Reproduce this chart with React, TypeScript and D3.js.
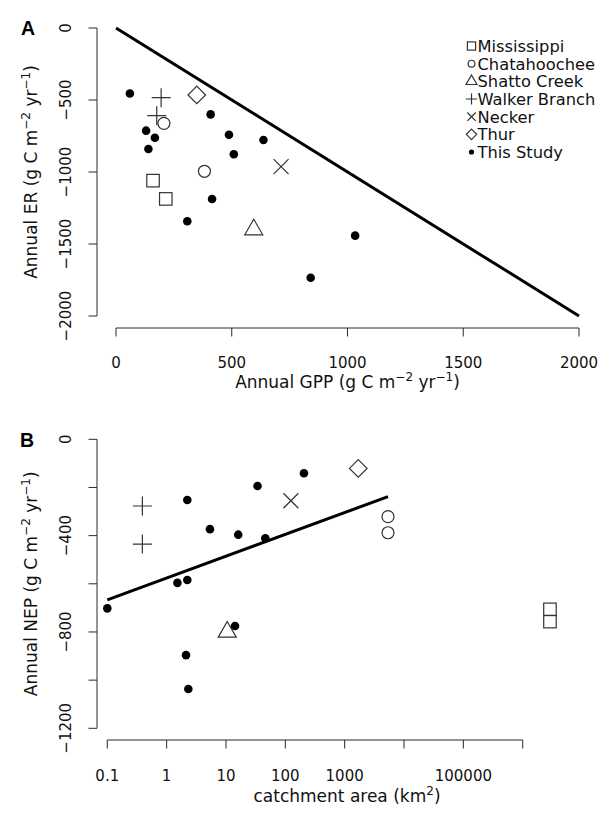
import React from "react";
import * as d3 from "d3";

// ---------- Panel A data: annual GPP vs annual ER ----------
const studyGPP = [60, 130, 168, 140, 409, 488, 509, 637, 415, 308, 1033, 841];
const studyER = [-455, -713, -762, -840, -600, -741, -877, -778, -1187, -1342, -1442, -1734];
const missGPP = [160, 215];
const missER = [-1060, -1187];
const chatGPP = [207, 382];
const chatER = [-662, -995];
const shattoGPP = [595];
const shattoER = [-1400];
const walkerGPP = [195, 176];
const walkerER = [-484, -609];
const neckerGPP = [713];
const neckerER = [-963];
const thurGPP = [349];
const thurER = [-465];
const oneToOneGPP = [0, 2000];
const oneToOneER = [0, -2000];
const gppTicks = [0, 500, 1000, 1500, 2000];
const erTicks = [0, -500, -1000, -1500, -2000];

// ---------- Panel B data: catchment area vs annual NEP ----------
const studyArea = [0.1, 1.52, 2.23, 2.23, 5.37, 16.1, 34, 46, 14.2, 2.12, 2.32, 206];
const studyNEP = [-702, -596, -584, -252, -373, -396, -194, -411, -775, -896, -1037, -141];
const missArea = [2.88e6, 2.88e6];
const missNEP = [-706, -757];
const chatArea = [5370, 5370];
const chatNEP = [-321, -388];
const shattoArea = [10.5];
const shattoNEP = [-800];
const walkerArea = [0.39, 0.39];
const walkerNEP = [-277, -435];
const neckerArea = [124];
const neckerNEP = [-255];
const thurArea = [1695];
const thurNEP = [-121];
const fitArea = [0.1, 5370];
const fitNEP = [-667, -238];
const areaTicks = [0.1, 1, 10, 100, 1000, 10000, 100000, 1000000];
const areaTickLabels = ["0.1", "1", "10", "100", "1000", "", "100000", ""];
const nepTicks = [0, -200, -400, -600, -800, -1000, -1200];
const nepTickLabels = ["0", "", "−400", "", "−800", "", "−1200"];

const legendNames = ["Mississippi", "Chatahoochee", "Shatto Creek", "Walker Branch", "Necker", "Thur", "This Study"];
const legendShapes = ["square", "circle", "triangle", "plus", "times", "diamond", "dot"];

const FONT = "'DejaVu Sans', sans-serif";
const INK = "#2a2a2a";
const TICK_FS = 15;
const TITLE_FS = 17;
const SUP_FS = 12;
const LEGEND_FS = 16.3;

const plotSize: Record<string, number> = {
  square: 12.5, circle: 6, triangle: 10.4, plus: 9.5, times: 7.5, diamond: 8.8, dot: 4.3,
};
const legendSize: Record<string, number> = {
  square: 8.2, circle: 3.4, triangle: 6.3, plus: 5.6, times: 4.2, diamond: 5.2, dot: 2.6,
};

function Marker({ shape, x, y, s }: { shape: string; x: number; y: number; s: number }) {
  const st = { fill: "none", stroke: "#333", strokeWidth: 1.2 };
  if (shape === "dot") return <circle cx={x} cy={y} r={s} fill="#000" />;
  if (shape === "circle") return <circle cx={x} cy={y} r={s} {...st} />;
  if (shape === "square") return <rect x={x - s / 2} y={y - s / 2} width={s} height={s} {...st} />;
  if (shape === "triangle") {
    const dx = (s * Math.sqrt(3)) / 2;
    return <path d={`M${x},${y - s}L${x + dx},${y + s / 2}L${x - dx},${y + s / 2}Z`} {...st} />;
  }
  if (shape === "plus")
    return <path d={`M${x - s},${y}H${x + s}M${x},${y - s}V${y + s}`} {...st} />;
  if (shape === "times")
    return <path d={`M${x - s},${y - s}L${x + s},${y + s}M${x - s},${y + s}L${x + s},${y - s}`} {...st} />;
  if (shape === "diamond")
    return <path d={`M${x},${y - s}L${x + s},${y}L${x},${y + s}L${x - s},${y}Z`} {...st} />;
  return null;
}

function AxisTitle({ x, y, rotate, main }: { x: number; y: number; rotate?: boolean; main: string }) {
  return (
    <text
      transform={`translate(${x},${y})${rotate ? " rotate(-90)" : ""}`}
      textAnchor="middle"
      fontFamily={FONT}
      fontSize={TITLE_FS}
      fill="#111"
      style={{ whiteSpace: "pre" }}
    >
      <tspan>{main}</tspan>
      <tspan dy={-7} fontSize={SUP_FS}>−2</tspan>
      <tspan dy={7}> yr</tspan>
      <tspan dy={-7} fontSize={SUP_FS}>−1</tspan>
      <tspan dy={7}>)</tspan>
    </text>
  );
}

export default function App() {
  // Panel A scales
  const xA = d3.scaleLinear().domain([0, 2000]).range([116, 579]);
  const yA = d3.scaleLinear().domain([0, -2000]).range([28, 316]);
  // Panel B scales
  const xB = d3.scaleLog().domain([0.1, 1e6]).range([107.3, 522.7]);
  const yB = d3.scaleLinear().domain([0, -1200]).range([439.3, 728.3]);

  const seriesA = [
    { shape: "square", xs: missGPP, ys: missER },
    { shape: "circle", xs: chatGPP, ys: chatER },
    { shape: "triangle", xs: shattoGPP, ys: shattoER },
    { shape: "plus", xs: walkerGPP, ys: walkerER },
    { shape: "times", xs: neckerGPP, ys: neckerER },
    { shape: "diamond", xs: thurGPP, ys: thurER },
    { shape: "dot", xs: studyGPP, ys: studyER },
  ];
  const seriesB = [
    { shape: "square", xs: missArea, ys: missNEP },
    { shape: "circle", xs: chatArea, ys: chatNEP },
    { shape: "triangle", xs: shattoArea, ys: shattoNEP },
    { shape: "plus", xs: walkerArea, ys: walkerNEP },
    { shape: "times", xs: neckerArea, ys: neckerNEP },
    { shape: "diamond", xs: thurArea, ys: thurNEP },
    { shape: "dot", xs: studyArea, ys: studyNEP },
  ];

  const lineA = d3
    .line<number>()
    .x((d) => xA(oneToOneGPP[d]))
    .y((d) => yA(oneToOneER[d]));
  const lineB = d3
    .line<number>()
    .x((d) => xB(fitArea[d]))
    .y((d) => yB(fitNEP[d]));

  const axisX0A = 97;
  const axisYA = 328;
  const axisX0B = 97;
  const axisYB = 740;
  const tick = 8.5;
  const yLabelX = 70.5;

  const fmt = (v: number) => (v < 0 ? "−" + Math.abs(v) : String(v));

  return (
    <svg
      width={601}
      height={813}
      viewBox="0 0 601 813"
      style={{ position: "absolute", left: 0, top: 0, background: "#fff" }}
    >
      <rect x={0} y={0} width={601} height={813} fill="#fff" />

      {/* ===================== Panel A ===================== */}
      <text x={21} y={35} fontFamily="'Liberation Sans', Arial, sans-serif" fontWeight="bold" fontSize={19.5} fill="#000">
        A
      </text>

      <g stroke={INK} strokeWidth={1} fill="none">
        <line x1={axisX0A} x2={axisX0A} y1={yA(erTicks[0])} y2={yA(erTicks[erTicks.length - 1])} />
        {erTicks.map((t) => (
          <line key={t} x1={axisX0A - tick} x2={axisX0A} y1={yA(t)} y2={yA(t)} />
        ))}
        <line x1={xA(gppTicks[0])} x2={xA(gppTicks[gppTicks.length - 1])} y1={axisYA} y2={axisYA} />
        {gppTicks.map((t) => (
          <line key={t} x1={xA(t)} x2={xA(t)} y1={axisYA} y2={axisYA + tick} />
        ))}
      </g>
      {erTicks.map((t) => (
        <text
          key={t}
          transform={`translate(${yLabelX},${yA(t)}) rotate(-90)`}
          textAnchor="middle"
          fontFamily={FONT}
          fontSize={TICK_FS}
          fill="#111"
        >
          {fmt(t)}
        </text>
      ))}
      {gppTicks.map((t) => (
        <text key={t} x={xA(t)} y={368} textAnchor="middle" fontFamily={FONT} fontSize={TICK_FS} fill="#111">
          {fmt(t)}
        </text>
      ))}
      <AxisTitle x={347.5} y={387.5} main="Annual GPP (g C m" />
      <AxisTitle x={37} y={yA(-1000)} rotate main="Annual ER (g C m" />

      {/* 1:1 line */}
      <path d={lineA([0, 1]) || ""} fill="none" stroke="#000" strokeWidth={3} />

      {seriesA.map((s) =>
        s.xs.map((v, i) => (
          <Marker key={s.shape + i} shape={s.shape} x={xA(v)} y={yA(s.ys[i])} s={plotSize[s.shape]} />
        ))
      )}

      {/* legend */}
      {legendNames.map((name, i) => {
        const cy = 46 + i * 17.67;
        return (
          <g key={name}>
            <Marker shape={legendShapes[i]} x={471.5} y={cy} s={legendSize[legendShapes[i]]} />
            <text x={477.5} y={cy + 5.9} fontFamily={FONT} fontSize={LEGEND_FS} fill="#111">
              {name}
            </text>
          </g>
        );
      })}

      {/* ===================== Panel B ===================== */}
      <text x={20} y={447} fontFamily="'Liberation Sans', Arial, sans-serif" fontWeight="bold" fontSize={19.5} fill="#000">
        B
      </text>
      <g stroke={INK} strokeWidth={1} fill="none">
        <line x1={axisX0B} x2={axisX0B} y1={yB(nepTicks[0])} y2={yB(nepTicks[nepTicks.length - 1])} />
        {nepTicks.map((t) => (
          <line key={t} x1={axisX0B - tick} x2={axisX0B} y1={yB(t)} y2={yB(t)} />
        ))}
        <line x1={xB(areaTicks[0])} x2={xB(areaTicks[areaTicks.length - 1])} y1={axisYB} y2={axisYB} />
        {areaTicks.map((t) => (
          <line key={t} x1={xB(t)} x2={xB(t)} y1={axisYB} y2={axisYB + tick} />
        ))}
      </g>
      {nepTicks.map((t, i) =>
        nepTickLabels[i] ? (
          <text
            key={t}
            transform={`translate(${yLabelX},${yB(t)}) rotate(-90)`}
            textAnchor="middle"
            fontFamily={FONT}
            fontSize={TICK_FS}
            fill="#111"
          >
            {nepTickLabels[i]}
          </text>
        ) : null
      )}
      {areaTicks.map((t, i) =>
        areaTickLabels[i] ? (
          <text key={t} x={xB(t)} y={780.5} textAnchor="middle" fontFamily={FONT} fontSize={TICK_FS} fill="#111">
            {areaTickLabels[i]}
          </text>
        ) : null
      )}
      <text x={347} y={802} textAnchor="middle" fontFamily={FONT} fontSize={TITLE_FS} fill="#111">
        <tspan>catchment area (km</tspan>
        <tspan dy={-7} fontSize={SUP_FS}>2</tspan>
        <tspan dy={7}>)</tspan>
      </text>
      <AxisTitle x={37} y={yB(-600)} rotate main="Annual NEP (g C m" />

      {/* regression line */}
      <path d={lineB([0, 1]) || ""} fill="none" stroke="#000" strokeWidth={3} />

      {seriesB.map((s) =>
        s.xs.map((v, i) => (
          <Marker key={s.shape + i} shape={s.shape} x={xB(v)} y={yB(s.ys[i])} s={plotSize[s.shape]} />
        ))
      )}
    </svg>
  );
}
